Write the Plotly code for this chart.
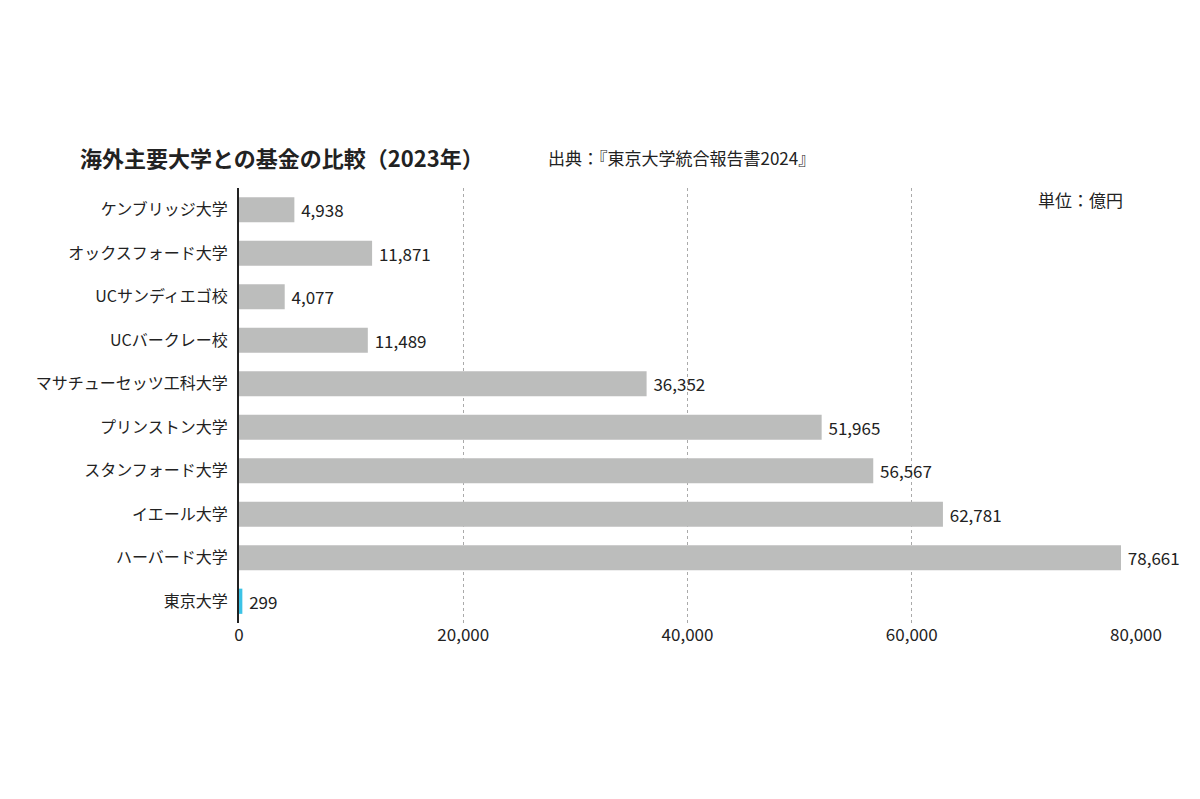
import plotly.graph_objects as go

universities = ["ケンブリッジ大学", "オックスフォード大学", "UCサンディエゴ校", "UCバークレー校",
                "マサチューセッツ工科大学", "プリンストン大学", "スタンフォード大学", "イエール大学",
                "ハーバード大学", "東京大学"]
endowment = [4938, 11871, 4077, 11489, 36352, 51965, 56567, 62781, 78661, 299]
bar_colors = ["#bcbdbc"] * 9 + ["#3cc3e6"]

fig = go.Figure()
fig.add_trace(go.Bar(
    y=universities, x=endowment, orientation="h",
    marker=dict(color=bar_colors, line=dict(width=0)),
    text=[f" {v:,}" for v in endowment], textposition="outside",
    textfont=dict(size=17, color="#222"), cliponaxis=False,
))

fig.update_layout(
    width=1200, height=799, plot_bgcolor="white", paper_bgcolor="white",
    margin=dict(l=231, r=72, t=180, b=184, autoexpand=False), bargap=0.42, showlegend=False,
    font=dict(family="Noto Sans CJK JP", color="#222"),
)
fig.update_xaxes(range=[0, 80000], tickvals=[0, 20000, 40000, 60000, 80000],
                 tickformat=",", showgrid=True, gridcolor="#aaa", griddash="dot",
                 zeroline=False, tickfont=dict(size=17), ticks="", showline=False,
                 automargin=False)
fig.update_yaxes(autorange="reversed", showline=True, linecolor="#222", linewidth=2,
                 tickfont=dict(size=16), ticks="", ticklabelstandoff=6, automargin=False)

fig.add_annotation(xref="paper", yref="paper", xanchor="left", yanchor="middle",
                   x=(70 - 231) / 897, y=1 + (180 - 152) / 395,
                   text="<b>海外主要大学との基金の比較（2023年）</b>",
                   font=dict(size=22, color="#222"), showarrow=False)
fig.add_annotation(xref="paper", yref="paper", xanchor="left", yanchor="middle",
                   x=(538 - 231) / 897, y=1 + (180 - 152) / 395,
                   text="出典：『東京大学統合報告書2024』",
                   font=dict(size=17, color="#222"), showarrow=False)
fig.add_annotation(xref="paper", yref="paper", xanchor="right", yanchor="middle",
                   x=(1117 - 231) / 897, y=1 - (190 - 180) / 395,
                   text="単位：億円", bgcolor="white",
                   font=dict(size=17, color="#222"), showarrow=False)

fig.write_html("out.html")
